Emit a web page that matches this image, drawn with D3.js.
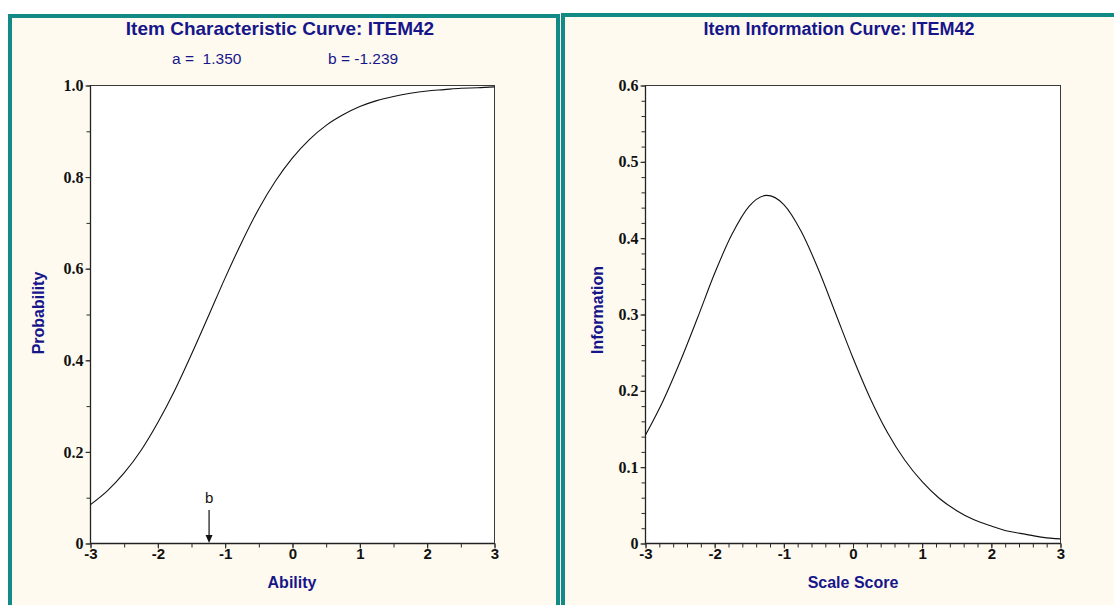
<!DOCTYPE html>
<html><head><meta charset="utf-8">
<script src="https://cdn.jsdelivr.net/npm/d3@7"></script>
<style>
html,body{margin:0;padding:0;background:#fff;}
svg{display:block;}
</style></head>
<body>
<svg id="c" width="1114" height="605"></svg>
<script>
// ---- data ----
const theta = [-3,-2.75,-2.5,-2.25,-2,-1.75,-1.5,-1.25,-1,-0.75,-0.5,-0.25,0,0.25,0.5,0.75,1,1.25,1.5,1.75,2,2.25,2.5,2.75,3];
const probability = [0.085,0.115,0.154,0.203,0.264,0.334,0.413,0.496,0.580,0.659,0.731,0.792,0.842,0.882,0.913,0.936,0.954,0.967,0.976,0.983,0.988,0.991,0.994,0.995,0.997];
const information = [0.142,0.186,0.238,0.295,0.354,0.405,0.442,0.456,0.444,0.409,0.359,0.301,0.243,0.190,0.145,0.109,0.081,0.059,0.043,0.031,0.023,0.016,0.012,0.008,0.006];
const paramA = 1.350;
const paramB = -1.239;
const xTickLabels = ["-3","-2","-1","0","1","2","3"];
const probTickLabels = ["0","0.2","0.4","0.6","0.8","1.0"];
const infoTickLabels = ["0","0.1","0.2","0.3","0.4","0.5","0.6"];

const svg = d3.select("#c");
const navy = "#16168a";
const teal = "#128a85";
const cream = "#fffaf0";
const sans = "Liberation Sans, Arial, sans-serif";
const serif = "Liberation Serif, Times New Roman, serif";

// panels
const panels = [
  {x:8, y:14, w:552, h:600},
  {x:561, y:13, w:560, h:600}
];
panels.forEach(p=>{
  svg.append("rect").attr("x",p.x+2).attr("y",p.y+2).attr("width",p.w-4).attr("height",p.h-4)
    .attr("fill",cream).attr("stroke",teal).attr("stroke-width",4);
});

function drawChart(cfg){
  const g = svg.append("g");
  const x = d3.scaleLinear().domain([-3,3]).range([cfg.x0,cfg.x1]);
  const y = d3.scaleLinear().domain([0,cfg.ymax]).range([cfg.y0,cfg.y1]);
  g.append("rect").attr("x",cfg.x0).attr("y",cfg.y1).attr("width",cfg.x1-cfg.x0).attr("height",cfg.y0-cfg.y1)
    .attr("fill","#fff").attr("stroke","#3a3a3a").attr("stroke-width",1);
  g.append("line").attr("x1",cfg.x0).attr("x2",cfg.x0).attr("y1",cfg.y1).attr("y2",cfg.y0).attr("stroke","#222").attr("stroke-width",1.3);
  g.append("line").attr("x1",cfg.x0).attr("x2",cfg.x1).attr("y1",cfg.y0).attr("y2",cfg.y0).attr("stroke","#222").attr("stroke-width",1.3);
  // x axis
  const xa = g.append("g").attr("transform",`translate(0,${cfg.y0})`)
    .call(d3.axisBottom(x).tickValues(d3.range(-3,3.0001,cfg.xMinor)).tickSize(4).tickFormat(""));
  xa.select(".domain").remove();
  xa.selectAll("line").attr("stroke","#2a2a2a");
  const xl = g.append("g").attr("transform",`translate(0,${cfg.y0})`)
    .call(d3.axisBottom(x).tickValues(xTickLabels.map(Number)).tickSize(5).tickPadding(0).tickFormat((d,i)=>xTickLabels[i]));
  xl.select(".domain").remove();
  xl.selectAll("line").attr("stroke","#2a2a2a");
  xl.selectAll("text").attr("font-family",sans).attr("font-weight","bold").attr("font-size",15).attr("fill","#111");
  // y axis
  const ya = g.append("g").attr("transform",`translate(${cfg.x0},0)`)
    .call(d3.axisLeft(y).tickValues(d3.range(0,cfg.ymax+1e-9,cfg.yMinor)).tickSize(4).tickFormat(""));
  ya.select(".domain").remove();
  ya.selectAll("line").attr("stroke","#2a2a2a");
  const yl = g.append("g").attr("transform",`translate(${cfg.x0},0)`)
    .call(d3.axisLeft(y).tickValues(cfg.yLabels.map(Number)).tickSize(5).tickPadding(2).tickFormat((d,i)=>cfg.yLabels[i]));
  yl.select(".domain").remove();
  yl.selectAll("line").attr("stroke","#2a2a2a");
  yl.selectAll("text").attr("font-family",serif).attr("font-weight","bold").attr("font-size",16).attr("fill","#111");
  // curve
  const line = d3.line().x((d,i)=>x(theta[i])).y(d=>y(d)).curve(d3.curveMonotoneX);
  g.append("path").datum(cfg.values).attr("d",line).attr("fill","none").attr("stroke","#111").attr("stroke-width",1.1);
  // titles
  g.append("text").attr("x",cfg.titleX).attr("y",35).attr("text-anchor","middle")
    .attr("font-family",sans).attr("font-weight","bold").attr("font-size",cfg.titleSize).attr("fill",navy).text(cfg.title);
  g.append("text").attr("x",cfg.xTitleX).attr("y",588).attr("text-anchor","middle")
    .attr("font-family",sans).attr("font-weight","bold").attr("font-size",16).attr("fill",navy).text(cfg.xTitle);
  g.append("text").attr("transform",`translate(${cfg.yTitleX},${cfg.yTitleY}) rotate(-90)`).attr("text-anchor","middle")
    .attr("font-family",sans).attr("font-weight","bold").attr("font-size",16).attr("fill",navy).text(cfg.yTitle);
  return {g,x,y};
}

const left = drawChart({x0:90.5,x1:494.5,y0:543.5,y1:85.5,ymax:1,xMinor:0.5,yMinor:0.1,yLabels:probTickLabels,
  values:probability,title:"Item Characteristic Curve: ITEM42",titleX:280,titleSize:19,xTitle:"Ability",xTitleX:292,yTitle:"Probability",yTitleX:44,yTitleY:313});
const right = drawChart({x0:645.5,x1:1060.5,y0:543.5,y1:85.5,ymax:0.6,xMinor:0.2,yMinor:0.02,yLabels:infoTickLabels,
  values:information,title:"Item Information Curve: ITEM42",titleX:839,titleSize:18,xTitle:"Scale Score",xTitleX:853,yTitle:"Information",yTitleX:603,yTitleY:310});

// parameters
svg.append("text").attr("x",172).attr("y",64).attr("font-family",sans).attr("font-size",15.5).attr("fill",navy)
  .attr("xml:space","preserve").text("a =  " + paramA.toFixed(3));
svg.append("text").attr("x",328).attr("y",64).attr("font-family",sans).attr("font-size",15.5).attr("fill",navy)
  .text("b = " + paramB.toFixed(3));

// b marker
const bx = left.x(paramB);
svg.append("text").attr("x",bx).attr("y",503).attr("text-anchor","middle").attr("font-family",sans).attr("font-size",15).attr("fill","#111").text("b");
svg.append("line").attr("x1",bx).attr("x2",bx).attr("y1",510).attr("y2",539).attr("stroke","#111").attr("stroke-width",1.2);
svg.append("path").attr("d",`M${bx-3.5},${535}L${bx+3.5},${535}L${bx},${543}Z`).attr("fill","#111");
</script>
</body></html>
